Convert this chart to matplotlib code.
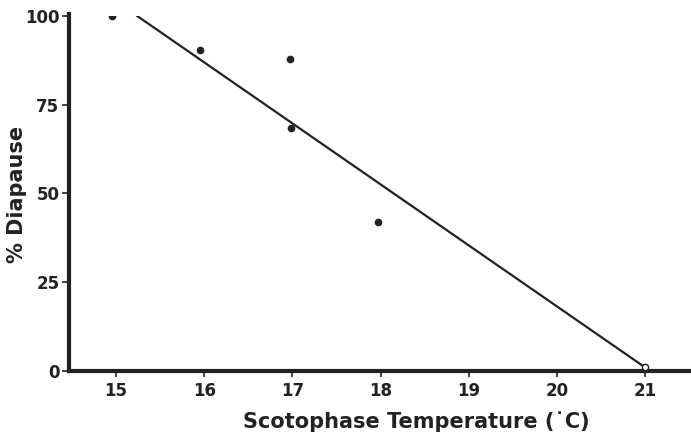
import matplotlib
matplotlib.use("Agg")
import matplotlib.pyplot as plt

# observed diapause at each scotophase temperature
temp = [14.95, 15.95, 16.97, 16.98, 17.97]
diapause = [100, 90.5, 88, 68.5, 42]
# zero-diapause point (open symbol)
temp_open = [21.0]
diapause_open = [1.0]
# fitted line
fit_x = [15.24, 21.0]
fit_y = [100, 1.0]

xticks = [15, 16, 17, 18, 19, 20, 21]
yticks = [0, 25, 50, 75, 100]

plt.rcParams['font.family'] = ['DejaVu Sans']
plt.rcParams['font.weight'] = 'bold'
ink = '#222222'

fig = plt.figure(figsize=(6.91, 4.38), dpi=100)
ax = fig.add_axes([0.0999, 0.153, 0.9001, 0.8105])

ax.plot(fit_x, fit_y, color=ink, linewidth=1.6, zorder=2)
ax.plot(temp, diapause, 'o', color=ink, markersize=4.5, zorder=3)
ax.plot(temp_open, diapause_open, 'o', markerfacecolor='white',
        markeredgecolor=ink, markersize=4.5, markeredgewidth=1.0, zorder=3)

ax.set_xlim(14.467, 21.52)
ax.set_ylim(0, 100)
ax.set_xticks(xticks)
ax.set_yticks(yticks)
ax.tick_params(axis='both', labelsize=12, colors=ink, width=1.2)
ax.tick_params(axis='y', length=5, pad=2)
ax.tick_params(axis='x', length=4, pad=4)

for side in ['top', 'right']:
    ax.spines[side].set_visible(False)
for side in ['left', 'bottom']:
    ax.spines[side].set_linewidth(3)
    ax.spines[side].set_color(ink)
ax.spines['left'].set_bounds(0, 100.5)

fig.text(0.602, 0.0365, 'Scotophase Temperature (\u02d9C)', fontsize=15,
         fontweight='bold', color=ink, ha='center', va='center')
fig.text(0.0246, 0.555, '% Diapause', fontsize=15, fontweight='bold',
         color=ink, ha='center', va='center', rotation=90)

fig.savefig('out.png', dpi=100)
